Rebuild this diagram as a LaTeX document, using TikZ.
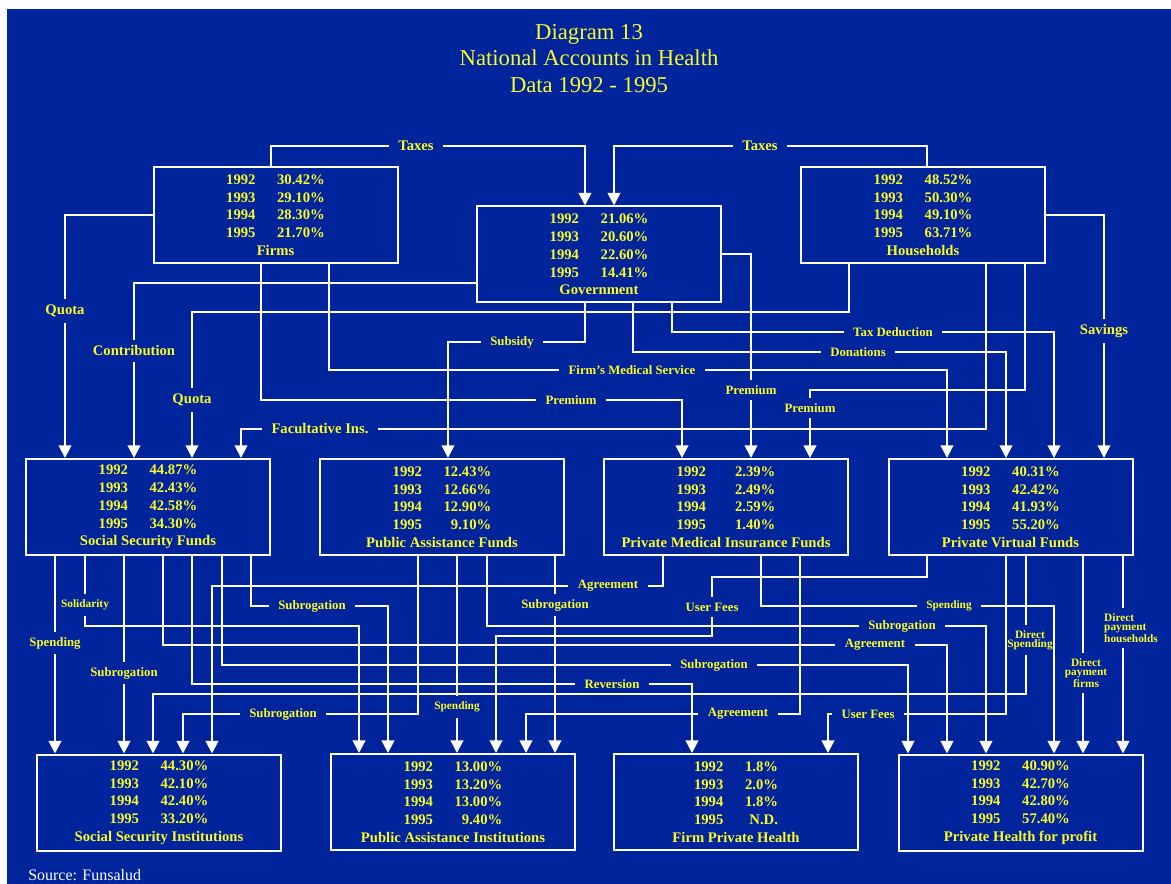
\documentclass[tikz,border=0pt]{standalone}
\usepackage{fontspec}
\setmainfont{Liberation Serif}
\usetikzlibrary{arrows.meta}
\definecolor{slideblue}{RGB}{0,36,156}
\definecolor{slideyellow}{RGB}{250,250,40}
% one row of a box: year and share
\newcommand{\yrrow}[3][36pt]{\makebox[22pt][l]{#2}\hspace{16pt}\makebox[#1][r]{#3}}

\begin{document}
\begin{tikzpicture}[x=0.75pt,y=-0.75pt,
  fund/.style={draw=white, line width=1.5pt, minimum width=183pt, minimum height=72pt,
    inner sep=0pt, align=center, text=slideyellow, font=\bfseries\fontsize{11}{13.3}\selectfont},
  flow/.style={draw=white, line width=1.5pt},
  arr/.style={flow, -{Triangle[width=9.5pt,length=9.5pt]}},
  lbl/.style={text=slideyellow, font=\bfseries\fontsize{11}{13}\selectfont, inner xsep=7pt, inner ysep=4pt},
  slbl/.style={lbl, font=\bfseries\fontsize{9.6}{11}\selectfont},
  tlbl/.style={lbl, font=\bfseries\fontsize{8.5}{7}\selectfont, align=center},
  ttl/.style={text=slideyellow, font=\fontsize{17}{20}\selectfont, anchor=base}]
\useasboundingbox (0,0) rectangle (1171,884);
\fill[white] (0,0) rectangle (1171,884);
\fill[slideblue] (7,9) rectangle (1171,884);

% title
\node[ttl] (title1) at (589,40) {Diagram 13};
\node[ttl] (title2) at (589,66) {National Accounts in Health};
\node[ttl] (title3) at (589,93) {Data 1992 - 1995};

% sources
\node[fund] (firms) at (275.5,215) {\yrrow{1992}{30.42\%}\\ \yrrow{1993}{29.10\%}\\ \yrrow{1994}{28.30\%}\\ \yrrow{1995}{21.70\%}\\ Firms};
\node[fund] (gov) at (599,254.5) {\yrrow{1992}{21.06\%}\\ \yrrow{1993}{20.60\%}\\ \yrrow{1994}{22.60\%}\\ \yrrow{1995}{14.41\%}\\ Government};
\node[fund] (hh) at (923,215) {\yrrow{1992}{48.52\%}\\ \yrrow{1993}{50.30\%}\\ \yrrow{1994}{49.10\%}\\ \yrrow{1995}{63.71\%}\\ Households};

% funds
\node[fund] (ssf) at (148,507) {\yrrow{1992}{44.87\%}\\ \yrrow{1993}{42.43\%}\\ \yrrow{1994}{42.58\%}\\ \yrrow{1995}{34.30\%}\\ Social Security Funds};
\node[fund] (paf) at (442,507) {\yrrow{1992}{12.43\%}\\ \yrrow{1993}{12.66\%}\\ \yrrow{1994}{12.90\%}\\ \yrrow{1995}{9.10\%}\\ Public Assistance Funds};
\node[fund] (pmif) at (726,507) {\yrrow{1992}{2.39\%}\\ \yrrow{1993}{2.49\%}\\ \yrrow{1994}{2.59\%}\\ \yrrow{1995}{1.40\%}\\ Private Medical Insurance Funds};
\node[fund] (pvf) at (1010.5,507) {\yrrow{1992}{40.31\%}\\ \yrrow{1993}{42.42\%}\\ \yrrow{1994}{41.93\%}\\ \yrrow{1995}{55.20\%}\\ Private Virtual Funds};

% providers
\node[fund] (ssi) at (159,802.5) {\yrrow{1992}{44.30\%}\\ \yrrow{1993}{42.10\%}\\ \yrrow{1994}{42.40\%}\\ \yrrow{1995}{33.20\%}\\ Social Security Institutions};
\node[fund] (pai) at (453,802) {\yrrow{1992}{13.00\%}\\ \yrrow{1993}{13.20\%}\\ \yrrow{1994}{13.00\%}\\ \yrrow{1995}{9.40\%}\\ Public Assistance Institutions};
\node[fund] (fph) at (736,802) {\yrrow[25pt]{1992}{1.8\%}\\ \yrrow[25pt]{1993}{2.0\%}\\ \yrrow[25pt]{1994}{1.8\%}\\ \yrrow[25pt]{1995}{N.D.}\\ Firm Private Health};
\node[fund] (php) at (1020.5,802.5) {\yrrow{1992}{40.90\%}\\ \yrrow{1993}{42.70\%}\\ \yrrow{1994}{42.80\%}\\ \yrrow{1995}{57.40\%}\\ Private Health for profit};

\node[white, anchor=base west, inner sep=0pt, font=\fontsize{12}{14}\selectfont] (source) at (28,880) {Source: Funsalud};

% labels, upper flows
\node[lbl] (taxA) at (416,146) {Taxes};
\node[lbl] (taxB) at (760,146) {Taxes};
\node[lbl] (quotaA) at (65,311) {Quota};
\node[lbl] (contrib) at (134,351) {Contribution};
\node[lbl] (quotaB) at (192,400) {Quota};
\node[lbl] (facult) at (320,429) {Facultative Ins.};
\node[slbl] (subsidy) at (512,342) {Subsidy};
\node[slbl] (firmmed) at (632,370) {Firm's Medical Service};
\node[slbl] (premA) at (571,400) {Premium};
\node[slbl] (taxded) at (893,332) {Tax Deduction};
\node[slbl] (donat) at (858,352) {Donations};
\node[slbl] (premB) at (751,390) {Premium};
\node[slbl] (premC) at (810,408) {Premium};
\node[lbl] (savings) at (1104,331) {Savings};

% upper flows
\draw[flow] (firms.north -| 271,0) |- (taxA);
\draw[arr] (taxA) -| (gov.north -| 585,0);
\draw[flow] (hh.north -| 927,0) |- (taxB);
\draw[arr] (taxB) -| (gov.north -| 614,0);
\draw[flow] (firms.west) -| (quotaA);
\draw[arr] (quotaA) -- (ssf.north -| quotaA);
\draw[flow] (gov.west |- 0,283) -| (contrib);
\draw[arr] (contrib) -- (ssf.north -| contrib);
\draw[flow] (hh.south -| 849,0) |- (quotaB |- 0,312) -- (quotaB);
\draw[arr] (quotaB) -- (ssf.north -| quotaB);
\draw[flow] (hh.south -| 986,0) |- (facult);
\draw[arr] (facult) -| (ssf.north -| 241,0);
\draw[flow] (gov.south -| 585,0) |- (subsidy);
\draw[arr] (subsidy) -| (paf.north -| 448,0);
\draw[flow] (firms.south -| 329,0) |- (firmmed);
\draw[arr] (firmmed) -| (pvf.north -| 947,0);
\draw[flow] (firms.south -| 261,0) |- (premA);
\draw[arr] (premA) -| (pmif.north -| 682,0);
\draw[flow] (gov.south -| 672,0) |- (taxded);
\draw[arr] (taxded) -| (pvf.north -| 1054,0);
\draw[flow] (gov.south -| 633,0) |- (donat);
\draw[arr] (donat) -| (pvf.north -| 1006,0);
\draw[flow] (gov.east |- 0,254) -| (premB);
\draw[arr] (premB) -- (pmif.north -| premB);
\draw[flow] (hh.south -| 1025,0) |- (premC |- 0,390) -- (premC);
\draw[arr] (premC) -- (pmif.north -| premC);
\draw[flow] (hh.east |- 0,215) -| (savings);
\draw[arr] (savings) -- (pvf.north -| savings);

% labels, lower flows
\node[slbl] (spendA) at (55,643) {Spending};
\node[tlbl] (solid) at (85,605) {Solidarity};
\node[slbl] (subA) at (124,673) {Subrogation};
\node[slbl] (subC) at (312,606) {Subrogation};
\node[slbl] (agrB) at (608,586) {Agreement};
\node[slbl] (subE) at (555,605) {Subrogation};
\node[slbl] (userA) at (712,607) {User Fees};
\node[tlbl] (spendC) at (949,606) {Spending};
\node[slbl] (subF) at (902,626) {Subrogation};
\node[slbl] (agrA) at (875,645) {Agreement};
\node[slbl] (subB) at (714,665) {Subrogation};
\node[slbl] (revers) at (612,684) {Reversion};
\node[slbl] (subD) at (283,714) {Subrogation};
\node[tlbl] (spendB) at (457,707) {Spending};
\node[slbl] (agrC) at (738,714) {Agreement};
\node[slbl] (userB) at (868,714) {User Fees};
\node[tlbl] (dirsp) at (1030,640) {Direct\\Spending};
\node[tlbl] (dpf) at (1086,673) {Direct\\payment\\firms};
\node[tlbl, align=left] (dph) at (1131,628) {Direct\\payment\\households};

% lower flows
\draw[flow] (ssf.south -| spendA) -- (spendA);
\draw[arr] (spendA) -- (ssi.north -| spendA);
\draw[flow] (ssf.south -| solid) -- (solid);
\draw[arr] (solid) |- (359,626) -- (pai.north -| 359,0);
\draw[flow] (ssf.south -| subA) -- (subA);
\draw[arr] (subA) -- (ssi.north -| subA);
\draw[flow] (ssf.south -| 163,0) |- (agrA);
\draw[arr] (agrA) -| (php.north -| 947,0);
\draw[flow] (ssf.south -| 192,0) |- (revers);
\draw[arr] (revers) -| (fph.north -| 692,0);
\draw[flow] (ssf.south -| 222,0) |- (subB);
\draw[arr] (subB) -| (php.north -| 908,0);
\draw[flow] (ssf.south -| 251,0) |- (subC);
\draw[arr] (subC) -| (pai.north -| 388,0);
\draw[flow] (pmif.south -| 663,0) |- (agrB);
\draw[arr] (agrB) -| (ssi.north -| 212,0);
\draw[flow] (pvf.south -| 1026,0) -- (dirsp.north -| 1026,0);
\draw[arr] (dirsp.south -| 1026,0) |- (153,694) -- (ssi.north -| 153,0);
\draw[flow] (paf.south -| 418,0) |- (subD);
\draw[arr] (subD) -| (ssi.north -| 183,0);
\draw[flow] (paf.south -| spendB) -- (spendB);
\draw[arr] (spendB) -- (pai.north -| spendB);
\draw[flow] (pvf.south -| 927,0) |- (userA |- 0,577) -- (userA);
\draw[arr] (userA) |- (496,636) -- (pai.north -| 496,0);
\draw[flow] (pmif.south -| 800,0) |- (agrC);
\draw[arr] (agrC) -| (pai.north -| 526,0);
\draw[flow] (paf.south -| subE) -- (subE);
\draw[arr] (subE) -- (pai.north -| subE);
\draw[flow] (paf.south -| 487,0) |- (subF);
\draw[arr] (subF) -| (php.north -| 986,0);
\draw[flow] (pmif.south -| 761,0) |- (spendC);
\draw[arr] (spendC) -| (php.north -| 1054,0);
\draw[flow] (pvf.south -| 1006,0) |- (userB);
\draw[arr] (userB) -| (fph.north -| 828,0);
\draw[flow] (pvf.south -| 1083,0) -- (dpf.north -| 1083,0);
\draw[arr] (dpf.south -| 1083,0) -- (php.north -| 1083,0);
\draw[flow] (pvf.south -| 1123,0) -- (dph.north -| 1123,0);
\draw[arr] (dph.south -| 1123,0) -- (php.north -| 1123,0);
\end{tikzpicture}
\end{document}
